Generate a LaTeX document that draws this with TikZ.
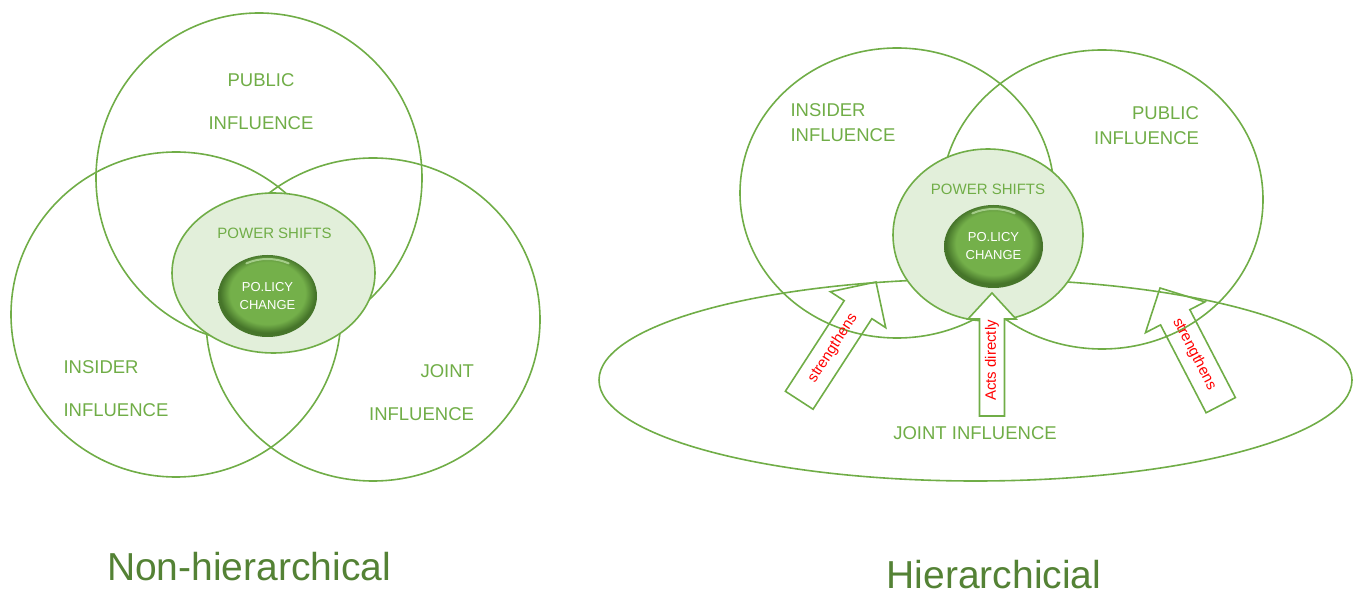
\documentclass[tikz,border=0pt]{standalone}
\usepackage{fontspec}
\setmainfont{Liberation Sans}

\definecolor{infgreen}{HTML}{70AD47}
\definecolor{shiftfill}{HTML}{E2EFDA}
\definecolor{titlegreen}{HTML}{548235}
\definecolor{ballmid}{HTML}{74B04A}
\definecolor{balldark}{HTML}{46752A}
\definecolor{ballshine}{HTML}{B5DA9C}

\pgfdeclareradialshading{policyball}{\pgfpoint{0bp}{3bp}}{%
  color(0bp)=(ballmid); color(19bp)=(ballmid); color(24bp)=(balldark);
  color(25bp)=(balldark); color(50bp)=(balldark)}

\tikzset{
  ring/.style={draw=infgreen, line width=1.6pt},
  shiftzone/.style={ring, fill=shiftfill},
  inftext/.style={text=infgreen, font=\fontsize{18.5}{43}\selectfont},
  shine/.style={draw=ballshine, line width=2pt, line cap=round, opacity=0.8},
  blockline/.style={draw=infgreen, line width=1.6pt, line join=miter},
  blocktext/.style={text=red, font=\fontsize{15}{15}\selectfont, inner sep=0pt, transform shape},
  titletext/.style={text=titlegreen, font=\fontsize{39}{39}\selectfont, anchor=base, inner sep=0pt},
}

\begin{document}
\begin{tikzpicture}[x=1pt, y=-1pt]
        \useasboundingbox (0,0) rectangle (1354,593);

        % Centres of the non-hierarchical circles
        \coordinate (PubL) at (259, 178);     % Public
        \coordinate (InsL) at (176, 314.5);   % Insider
        \coordinate (JntL) at (373, 319.5);   % Joint
        \coordinate (PowL) at (273.5, 273);   % Power shifts
        \coordinate (PolL) at (267.5, 296);   % Policy change

        % Draw the three overlapping influence circles
        \draw[ring] (PubL) ellipse (163 and 165);
        \draw[ring] (InsL) ellipse (165 and 162.5);
        \draw[ring] (JntL) ellipse (167 and 161.5);

        % Power shifts in the middle, policy change inside (y grows downwards)
        \draw[shiftzone] (PowL) ellipse (101.5 and 80);
        \shade[shading=policyball] (PolL) ellipse (49.5 and 41);
        \draw[shine] (PolL) ++(-62:45 and 37) arc[start angle=-62, end angle=-118, x radius=45, y radius=37];

        % Labels
        \node[inftext, align=center] (pubLab) at (261, 101.5) {PUBLIC\\INFLUENCE};
        \node[inftext, align=left, anchor=west] (insLab) at (60, 388.5) {INSIDER\\INFLUENCE};
        \node[inftext, align=right, anchor=east] (jntLab) at (477.5, 393) {JOINT\\INFLUENCE};
        \node[text=infgreen, font=\fontsize{15}{15}\selectfont] (powLab) at (274.5, 233) {POWER SHIFTS};
        \node[text=white, align=center, font=\fontsize{13}{18}\selectfont] (polLab) at (PolL) {PO.LICY\\CHANGE};
        \node[titletext] (nonTitle) at (249, 580) {Non-hierarchical};

        % Centres of the hierarchical shapes
        \coordinate (InsR) at (897, 193);     % Insider
        \coordinate (PubR) at (1102, 199.5);  % Public
        \coordinate (JntR) at (975.5, 380);   % Joint
        \coordinate (PowR) at (988, 235);     % Power shifts
        \coordinate (PolR) at (993.5, 246.5); % Policy change

        % Tips of the block arrows
        \coordinate (TipL) at (876, 282);
        \coordinate (TipM) at (992, 293);
        \coordinate (TipR) at (1160, 288);

        \draw[ring] (JntR) ellipse (376.5 and 101);
        \draw[ring] (InsR) ellipse (157 and 145);
        \draw[ring] (PubR) ellipse (161 and 149.5);
        \draw[shiftzone] (PowR) ellipse (95 and 86);
        \shade[shading=policyball] (PolR) ellipse (49.5 and 41.5);
        \draw[shine] (PolR) ++(-62:45 and 37.5) arc[start angle=-62, end angle=-118, x radius=45, y radius=37.5];

        % Block arrows, tip at the origin, pointing along +x
        \begin{scope}[shift={(TipM)}, rotate=90]
          \draw[blockline, fill=white] (0,0) -- (-26,24) -- (-26,12.5) -- (-123,12.5)
                -- (-123,-12.5) -- (-26,-12.5) -- (-26,-24) -- cycle;
          \node[blocktext] (actsTxt) at (-67.5,0) {Acts directly};
        \end{scope}
        \begin{scope}[shift={(TipL)}, rotate=57]
          \draw[blockline] (0,0) -- (-33,33) -- (-33,16.5) -- (-141,16.5)
                -- (-141,-16.5) -- (-33,-16.5) -- (-33,-33) -- cycle;
          \node[blocktext] (strTxtL) at (-79,0) {strengthens};
        \end{scope}
        \begin{scope}[shift={(TipR)}, rotate=117.4]
          \draw[blockline] (0,0) -- (-33,33.5) -- (-33,16.5) -- (-132,16.5)
                -- (-132,-16.5) -- (-33,-16.5) -- (-33,-33.5) -- cycle;
          \node[blocktext, rotate=180] (strTxtR) at (-74.5,0) {strengthens};
        \end{scope}

        % Labels
        \node[inftext, font=\fontsize{18.5}{25}\selectfont, align=left, anchor=west] (insLabR) at (787, 122.5) {INSIDER\\INFLUENCE};
        \node[inftext, font=\fontsize{18.5}{25}\selectfont, align=right, anchor=east] (pubLabR) at (1202.5, 125.5) {PUBLIC\\INFLUENCE};
        \node[text=infgreen, font=\fontsize{15}{15}\selectfont] (powLabR) at (988, 189) {POWER SHIFTS};
        \node[text=white, align=center, font=\fontsize{13}{18}\selectfont] (polLabR) at (PolR) {PO.LICY\\CHANGE};
        \node[inftext] (jntLabR) at (975, 433) {JOINT INFLUENCE};
        \node[titletext] (hierTitle) at (994, 588.5) {Hierarchicial};
\end{tikzpicture}
\end{document}
